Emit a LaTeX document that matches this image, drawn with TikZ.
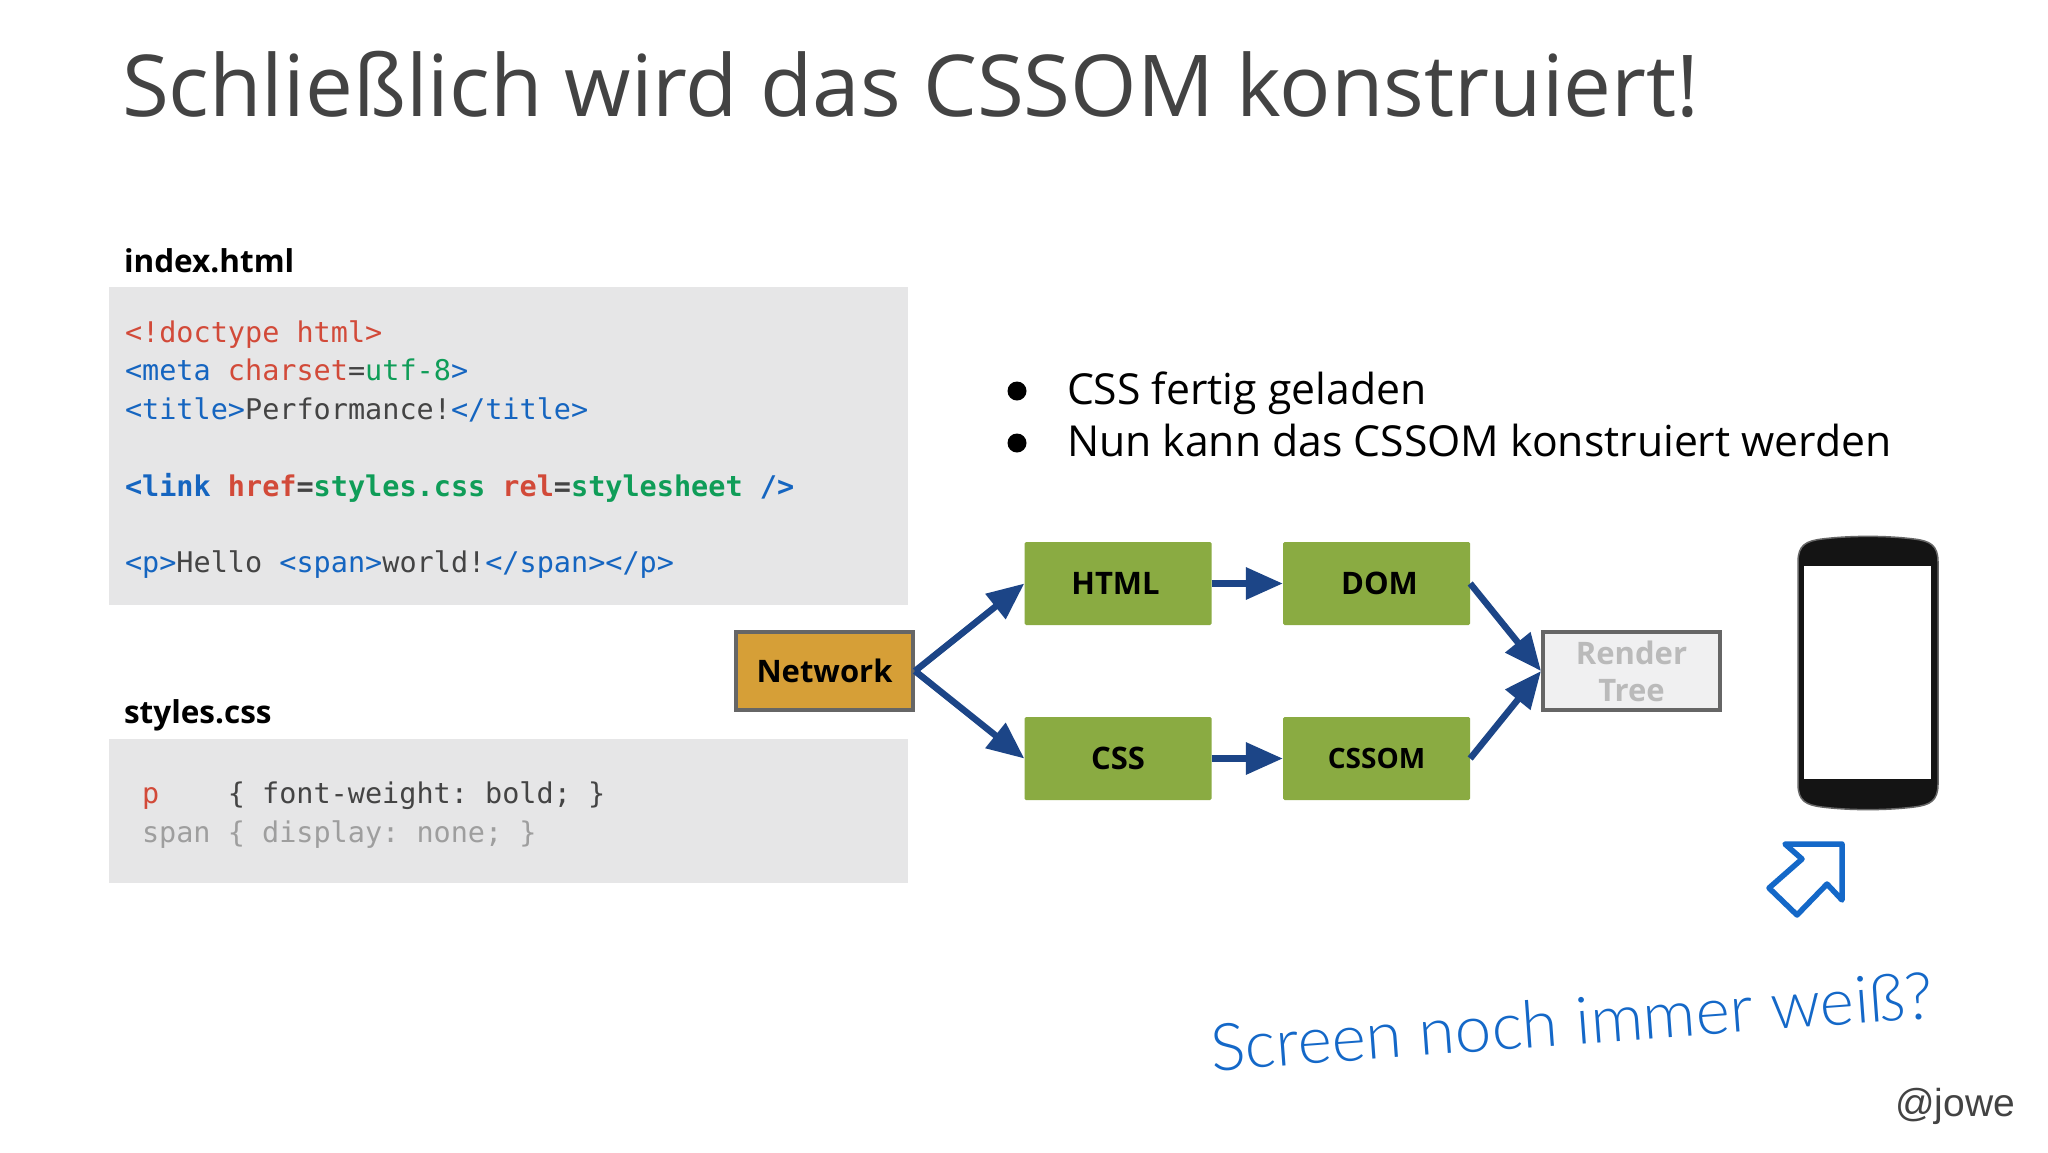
\documentclass[tikz,border=0pt]{standalone}
\usepackage{fontspec}
\usetikzlibrary{arrows.meta}
\setmainfont{Open Sans}
\newfontfamily\codefont{DejaVu Sans Mono}
\newfontfamily\handfont{Lato Light}
\newfontfamily\markfont{Liberation Sans}
\definecolor{titlegray}{HTML}{434343}
\definecolor{codebg}{HTML}{E6E6E7}
\definecolor{codered}{HTML}{D24A39}
\definecolor{codeblue}{HTML}{1565C0}
\definecolor{codegreen}{HTML}{0F9D58}
\definecolor{codedark}{HTML}{444444}
\definecolor{codefade}{HTML}{9E9E9E}
\definecolor{arrowblue}{HTML}{1C4587}
\definecolor{boxgreen}{HTML}{8AAB42}
\definecolor{boxorange}{HTML}{D69F37}
\definecolor{boxedge}{HTML}{666666}
\definecolor{handblue}{HTML}{1468C8}
\newcommand{\kr}[1]{\textcolor{codered}{#1}}
\newcommand{\kb}[1]{\textcolor{codeblue}{#1}}
\newcommand{\kg}[1]{\textcolor{codegreen}{#1}}
\frenchspacing
\tikzset{
  txt/.style={inner sep=0pt,outer sep=0pt,anchor=base west},
  codeline/.style={txt,text=codedark,font=\codefont\frenchspacing\fontsize{28.5}{38}\selectfont},
  heading/.style={txt,text=black,font=\bfseries\fontsize{31.5}{38}\selectfont},
  bullettext/.style={txt,text=black,font=\fontsize{42.7}{50}\selectfont},
  dot/.style={circle,fill=black,minimum size=19pt,inner sep=0pt},
  codepanel/.style={fill=codebg,draw=none,inner sep=0pt,minimum width=799pt},
  stage/.style={fill=boxgreen,draw=none,rounded corners=1.5pt,minimum width=187pt,minimum height=83pt,inner sep=0pt,text=black,font=\bfseries\fontsize{31}{37}\selectfont},
  framed/.style={draw=boxedge,line width=4pt,minimum width=177pt,minimum height=78pt,inner sep=0pt,font=\bfseries\fontsize{31}{37}\selectfont,align=center},
  flow/.style={draw=arrowblue,line width=6.5pt,-{Triangle[length=37pt,width=31pt,color=arrowblue]}},
}
\begin{document}
\begin{tikzpicture}[x=1pt,y=-1pt]
\useasboundingbox (0,0) rectangle (2048,1152);
\fill[white] (0,0) rectangle (2048,1152);

\node[txt,text=titlegray,font=\fontsize{85.4}{96}\selectfont] (title) at (122,116) {Schließlich wird das CSSOM konstruiert!};

\node[heading] (h1) at (124,272) {index.html};
\node[codepanel,minimum height=318pt] (panel1) at (508.5,446) {};
\node[codeline] (l1) at (125,342) {\kr{<!doctype html>}};
\node[codeline] (l2) at (125,380) {\kb{<meta} \kr{charset}=\kg{utf-8}\kb{>}};
\node[codeline] (l3) at (125,419) {\kb{<title>}Performance!\kb{</title>}};
\node[codeline,font=\codefont\frenchspacing\bfseries\fontsize{28.5}{38}\selectfont] (l4) at (125,496) {\kb{<link} \kr{href}=\kg{styles.css} \kr{rel}=\kg{stylesheet} \kb{/>}};
\node[codeline] (l5) at (125,572.5) {\kb{<p>}Hello \kb{<span>}world!\kb{</span></p>}};

\node[heading] (h2) at (124,723) {styles.css};
\node[codepanel,minimum height=144pt] (panel2) at (508.5,811) {};
\node[codeline] (s1) at (142,803) {\kr{p}\ \ \ \ \{ font-weight: bold; \}};
\node[codeline,text=codefade] (s2) at (142,842) {span \{ display: none; \}};

\node[dot] (d1) at (1017,391) {};
\node[dot] (d2) at (1017,443) {};
\node[bullettext] (b1) at (1067,404) {CSS fertig geladen};
\node[bullettext] (b2) at (1067,456) {Nun kann das CSSOM konstruiert werden};

\node[framed,fill=boxorange] (net) at (824.5,671) {Network};
\node[stage] (html) at (1118,583.5) {\hspace*{-5pt}HTML};
\node[stage] (dom) at (1376.5,583.5) {\hspace*{6pt}DOM};
\node[stage] (css) at (1118,758.5) {CSS};
\node[stage,font=\bfseries\fontsize{28}{37}\selectfont] (cssom) at (1376.5,758.5) {CSSOM};
\node[framed,fill=codebg!60!white,text=black!27] (rt) at (1631.5,671) {Render\\Tree};

\draw[flow] (net.east) -- (html.west);
\draw[flow] (net.east) -- (css.west);
\draw[flow] (html.east) -- (dom.west);
\draw[flow] (css.east) -- (cssom.west);
\draw[flow] (dom.east) -- (rt.west);
\draw[flow] (cssom.east) -- (rt.west);

% phone
\draw[draw=black!60,line width=1.5pt,fill=black!92] (1798,562)
  .. controls (1798,545) and (1806,541) .. (1822,539)
  .. controls (1850,535.5) and (1886,535.5) .. (1914,539)
  .. controls (1930,541) and (1938,545) .. (1938,562)
  -- (1938,784)
  .. controls (1938,801) and (1930,805) .. (1914,807)
  .. controls (1886,810.5) and (1850,810.5) .. (1822,807)
  .. controls (1806,805) and (1798,801) .. (1798,784) -- cycle;
\fill[white] (1804,566) rectangle (1931,779);

% hollow arrow
\draw[draw=handblue,line width=5.5pt,line join=round] (1842,844) -- (1785,844) -- (1802,859) -- (1769,888) -- (1797,915) -- (1827,884) -- (1842,900) -- cycle;

\node[anchor=base west,inner sep=0pt,text=handblue,rotate=4.2,font=\handfont\fontsize{65.5}{72}\selectfont] (hand) at (1212,1071) {Screen noch immer weiß?};
\node[txt,anchor=base east,text=titlegray,font=\markfont\fontsize{39}{44}\selectfont] (mark) at (2015,1116) {@jowe};
\end{tikzpicture}
\end{document}
